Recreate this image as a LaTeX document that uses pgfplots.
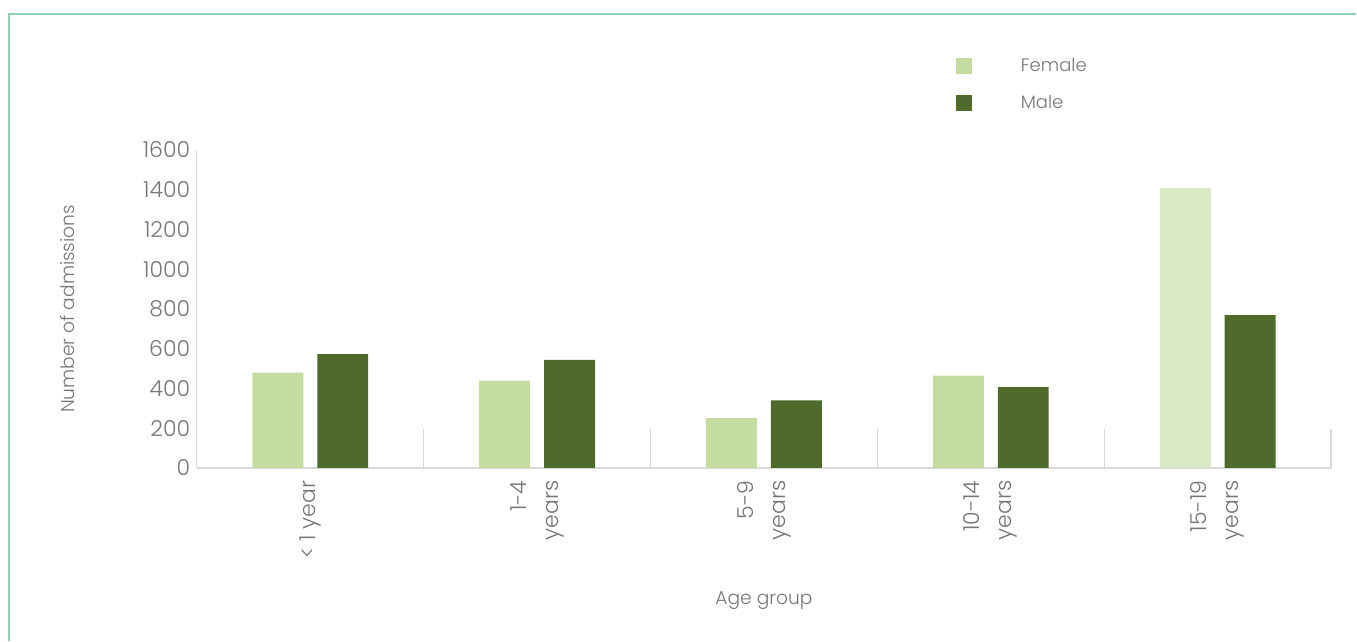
\documentclass[border=0pt]{standalone}
\usepackage{fontspec}
\setmainfont{Poppins Light}
\usepackage{pgfplots}
\pgfplotsset{compat=1.18}
\definecolor{female}{RGB}{197,220,160}
\definecolor{femalelight}{RGB}{219,232,198}
\definecolor{male}{RGB}{78,107,43}
\definecolor{txt}{RGB}{118,118,118}
\definecolor{axisgray}{RGB}{217,217,217}
\definecolor{frame}{RGB}{144,208,176}
\begin{document}
\begin{tikzpicture}
\path (0pt,0pt) rectangle (1017.75pt,-480.75pt);
\draw[frame, line width=1.5pt] (6.75pt,-480.75pt) -- (6.75pt,-10.5pt) -- (1017.75pt,-10.5pt);
\begin{axis}[
  at={(147.75pt,-351.2pt)}, anchor=south west,
  scale only axis, width=851.25pt, height=238.7pt,
  ybar=10.5pt, bar width=38.25pt,
  xmin=-0.5, xmax=4.5, ymin=0, ymax=1600,
  axis lines=left, axis line style={-, draw=axisgray, line width=0.9pt},
  xtick={0,1,2,3,4},
  xticklabels={{< 1 year},{1-4\\years},{5-9\\years},{10-14\\years},{15-19\\years}},
  major tick length=0pt,
  extra x ticks={0.5,1.5,2.5,3.5,4.5}, extra x tick labels={},
  extra x tick style={major tick length=29pt, tick align=inside, tick style={draw=axisgray, line width=0.9pt}},
  ytick={0,200,...,1600},
  tick label style={font=\fontsize{16.5pt}{24pt}\selectfont, text=txt},
  /pgf/number format/assume math mode=true,
  /pgf/number format/1000 sep={},
  xticklabel style={yshift=-6pt, rotate=90, anchor=east, align=right},
  yticklabel style={anchor=east, xshift=-1.5pt},
  ylabel={Number of admissions},
  xlabel={Age group},
  label style={font=\fontsize{14pt}{17pt}\selectfont, text=txt},
  ylabel style={at={(axis description cs:-0.1137,0.5)}, anchor=center},
  xlabel style={at={(axis description cs:0.5,-0.417)}, anchor=center},
  legend cell align=left,
  legend style={at={(axis description cs:0.6687,1.2985)}, anchor=north west, draw=none, fill=none, inner sep=0pt,
    font=\fontsize{13.5pt}{16pt}\selectfont, text=txt, row sep=12.75pt,
    /tikz/every odd column/.append style={column sep=35pt}},
  legend image code/.code={\fill[#1] (0pt,-6pt) rectangle (12pt,6pt);},
  clip=false,
]
\addplot[fill=female, draw=none, bar shift=-24.375pt] coordinates {(0,479) (1,439) (2,251) (3,464)};
\addlegendentry{Female}
\addplot[fill=male, draw=none, bar shift=24.375pt] coordinates {(0,573) (1,543) (2,340) (3,407) (4,769)};
\addlegendentry{Male}
\addplot[fill=femalelight, draw=none, bar shift=-24.375pt, forget plot] coordinates {(4,1409)};
\end{axis}
\end{tikzpicture}
\end{document}
